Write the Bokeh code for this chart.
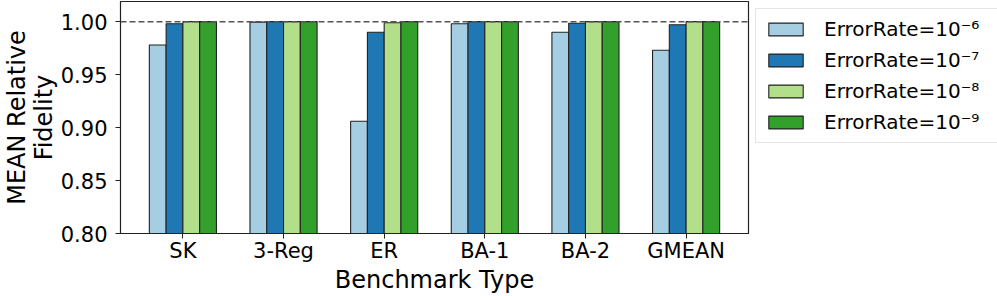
from bokeh.plotting import figure
from bokeh.models import (Range1d, FixedTicker, Span, Legend, LegendItem,
                          ColumnDataSource, NumeralTickFormatter)
from bokeh.transform import dodge
from bokeh.embed import file_html
from bokeh.resources import INLINE

benchmarks = ["SK", "3-Reg", "ER", "BA-1", "BA-2", "GMEAN"]
err_1e6 = [0.978, 0.9995, 0.906, 0.998, 0.990, 0.973]
err_1e7 = [0.998, 1.000, 0.990, 1.000, 0.9985, 0.997]
err_1e8 = [1.000, 1.000, 0.999, 1.000, 1.000, 1.000]
err_1e9 = [1.000, 1.000, 1.000, 1.000, 1.000, 1.000]
series_labels = ["ErrorRate=10\u207b\u2076", "ErrorRate=10\u207b\u2077",
                 "ErrorRate=10\u207b\u2078", "ErrorRate=10\u207b\u2079"]
series_keys = ["e6", "e7", "e8", "e9"]
colors = ["#a6cee3", "#1f78b4", "#b2df8a", "#33a02c"]
y_ticks = [0.80, 0.85, 0.90, 0.95, 1.00]

FONT = "DejaVu Sans"

src = ColumnDataSource(dict(x=list(range(len(benchmarks))),
                            e6=err_1e6, e7=err_1e7, e8=err_1e8, e9=err_1e9))

p = figure(frame_width=628, frame_height=232, output_backend="svg",
           toolbar_location=None,
           x_range=Range1d(-0.62, 5.62), y_range=Range1d(0.80, 1.019),
           min_border_left=0, min_border_right=0, min_border_top=1,
           min_border_bottom=0,
           styles={"position": "absolute", "top": "0px", "left": "0px"})
p.background_fill_color = "white"
p.border_fill_color = "white"
p.outline_line_color = "#222222"
p.outline_line_width = 1.2
p.xgrid.visible = False
p.ygrid.visible = False

bw = 1.0 / 6.0
offsets = [-1.5 * bw, -0.5 * bw, 0.5 * bw, 1.5 * bw]
renderers = []
for key, off, col in zip(series_keys, offsets, colors):
    r = p.vbar(x=dodge("x", off), top=key, bottom=0, width=bw, source=src,
               fill_color=col, line_color="#222222", line_width=1.1)
    renderers.append(r)

p.add_layout(Span(location=1.0, dimension="width", line_color="#555555",
                  line_width=1.5, line_dash="6 3"))

p.xaxis.ticker = FixedTicker(ticks=list(range(len(benchmarks))))
p.xaxis.major_label_overrides = {i: b for i, b in enumerate(benchmarks)}
p.yaxis.ticker = FixedTicker(ticks=y_ticks)
p.yaxis.formatter = NumeralTickFormatter(format="0.00")

for ax in (p.xaxis, p.yaxis):
    ax.minor_tick_line_color = None
    ax.major_tick_in = 0
    ax.major_tick_out = 5
    ax.major_tick_line_color = "#222222"
    ax.axis_line_color = "#222222"
    ax.major_label_text_font = FONT
    ax.major_label_text_font_size = "21px"
    ax.major_label_text_color = "black"
    ax.major_label_text_line_height = 1.0
    ax.axis_label_text_font = FONT
    ax.axis_label_text_font_size = "24px"
    ax.axis_label_text_font_style = "normal"
    ax.axis_label_text_color = "black"
    ax.axis_label_text_line_height = 0.95

p.xaxis.axis_label = "Benchmark Type"
p.xaxis.major_label_standoff = 0
p.xaxis.axis_label_standoff = 0
p.yaxis.axis_label = "MEAN Relative\nFidelity"
p.yaxis.major_label_standoff = 8
p.yaxis.axis_label_standoff = 0

legend = Legend(items=[LegendItem(label=l, renderers=[r])
                       for l, r in zip(series_labels, renderers)],
                location="top_left")
legend.label_text_font = FONT
legend.label_text_font_size = "20px"
legend.label_text_color = "black"
legend.label_width = 166
legend.glyph_width = 43
legend.glyph_height = 16
legend.label_standoff = 17
legend.spacing = 7
legend.padding = 8
legend.margin = 7
legend.border_line_color = "#cccccc"
legend.border_line_width = 1
legend.background_fill_alpha = 1.0
p.add_layout(legend, "right")

open("out.html", "w").write(file_html(p, INLINE))
